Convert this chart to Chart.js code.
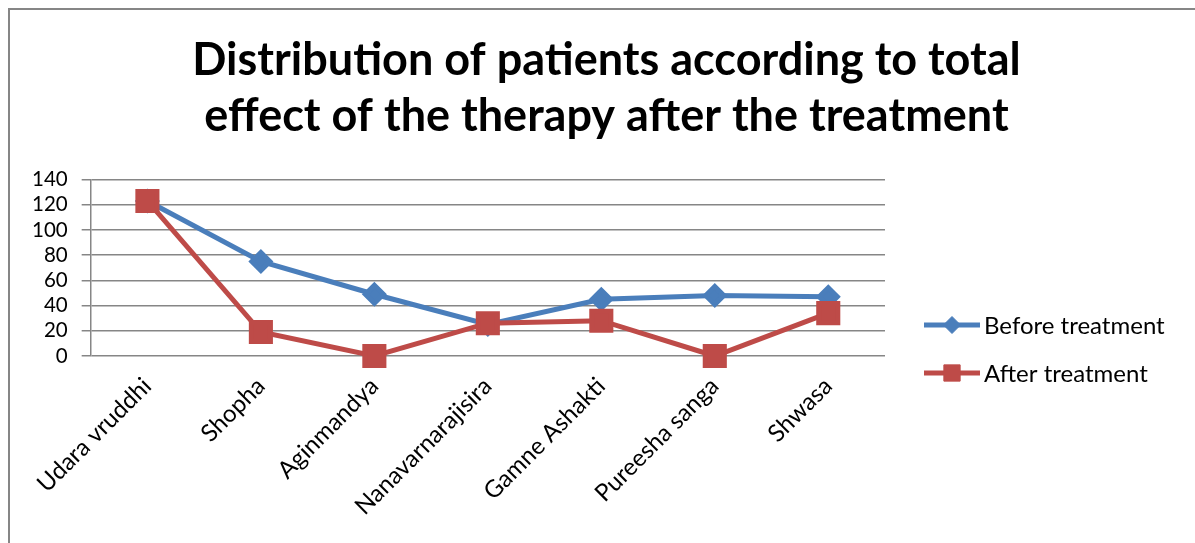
<!DOCTYPE html>
<html>
<head>
<meta charset="utf-8">
<script src="https://cdn.jsdelivr.net/npm/chart.js@4/dist/chart.umd.min.js"></script>
<style>
html,body{margin:0;padding:0;background:#fff;}
#wrap{position:relative;width:1195px;height:543px;}
</style>
</head>
<body>
<div id="wrap"><canvas id="c" width="1195" height="543"></canvas></div>
<script>
const categories = ["Udara vruddhi", "Shopha", "Aginmandya", "Nanavarnarajisira", "Gamne Ashakti", "Pureesha sanga", "Shwasa"];
const beforeTreatment = [123, 75, 49, 25, 45, 48, 47];
const afterTreatment = [123, 19, 0, 26, 28, 0, 34];
const yTicks = [0, 20, 40, 60, 80, 100, 120, 140];
const titleLines = ["Distribution of patients according to total", "effect of the therapy after the treatment"];
const seriesNames = ["Before treatment", "After treatment"];

const BLUE = '#4A7EBB';
const RED = '#BE4B48';
const GRID = '#868686';
const FONT = 'Lato, "Open Sans", sans-serif';

const framePlugin = {
  id: 'frame',
  beforeDraw(chart) {
    const ctx = chart.ctx;
    ctx.save();
    ctx.fillStyle = '#fff';
    ctx.fillRect(0, 0, chart.width, chart.height);
    ctx.strokeStyle = GRID;
    ctx.lineWidth = 2;
    ctx.strokeRect(9, 9, chart.width + 20, chart.height + 20);
    ctx.restore();
  }
};

const legendPlugin = {
  id: 'sideLegend',
  afterDraw(chart) {
    const ctx = chart.ctx;
    const x0 = chart.chartArea.right + 39;
    const yMid = 349;
    const gap = 48;
    const ds = chart.data.datasets;
    const markerR = [8.5, 11.5];
    ctx.save();
    ds.forEach((d, i) => {
      const y = yMid + (i - (ds.length - 1) / 2) * gap;
      ctx.strokeStyle = d.borderColor;
      ctx.lineWidth = d.borderWidth;
      ctx.beginPath();
      ctx.moveTo(x0, y);
      ctx.lineTo(x0 + 56, y);
      ctx.stroke();
      ctx.fillStyle = d.pointBackgroundColor;
      ctx.strokeStyle = d.pointBorderColor;
      ctx.lineWidth = 1;
      Chart.helpers.drawPoint(ctx, {pointStyle: d.pointStyle, radius: markerR[i], borderWidth: 1}, x0 + 28, y);
      ctx.fillStyle = '#000';
      ctx.font = '24px ' + FONT;
      ctx.textBaseline = 'middle';
      ctx.textAlign = 'left';
      ctx.fillText(d.label, x0 + 60, y + 1);
    });
    ctx.restore();
  }
};

new Chart(document.getElementById('c'), {
  type: 'line',
  data: {
    labels: categories,
    datasets: [
      {
        label: seriesNames[0],
        data: beforeTreatment,
        borderColor: BLUE,
        backgroundColor: BLUE,
        pointBackgroundColor: BLUE,
        pointBorderColor: BLUE,
        borderWidth: 5,
        pointStyle: 'rectRot',
        pointRadius: 9,
        pointHoverRadius: 9,
        tension: 0,
        order: 1,
        clip: false
      },
      {
        label: seriesNames[1],
        data: afterTreatment,
        borderColor: RED,
        backgroundColor: RED,
        pointBackgroundColor: RED,
        pointBorderColor: RED,
        borderWidth: 5,
        pointStyle: 'rect',
        pointRadius: 13.5,
        pointHoverRadius: 13.5,
        tension: 0,
        order: 0,
        clip: false
      }
    ]
  },
  options: {
    responsive: false,
    animation: false,
    events: [],
    layout: { padding: { left: 18, right: 0, top: 0, bottom: 0 } },
    plugins: {
      legend: { display: false },
      tooltip: { enabled: false },
      title: {
        display: true,
        text: titleLines,
        color: '#000',
        font: { family: FONT, size: 45, weight: 'bold', lineHeight: 1.25 },
        padding: { top: 32, bottom: 35 }
      }
    },
    scales: {
      x: {
        offset: true,
        grid: { display: false, drawTicks: false },
        border: { display: false },
        afterFit(scale) { scale.height = 187; },
        ticks: {
          color: '#000',
          font: { family: FONT, size: 24 },
          minRotation: 45,
          maxRotation: 45,
          autoSkip: false,
          padding: 16
        }
      },
      y: {
        min: yTicks[0],
        max: yTicks[yTicks.length - 1],
        afterBuildTicks(scale) { scale.ticks = yTicks.map(v => ({ value: v })); },
        grid: { color: GRID, lineWidth: 1.5, tickLength: 9, drawTicks: true },
        border: { display: true, color: GRID, width: 1.5 },
        ticks: {
          color: '#000',
          autoSkip: false,
          font: { family: FONT, size: 20.5 },
          padding: 14
        }
      },
      legendSpace: {
        type: 'linear',
        position: 'right',
        display: true,
        grid: { display: false, drawTicks: false },
        border: { display: false },
        ticks: { display: false },
        afterFit(scale) { scale.width = 310; }
      }
    }
  },
  plugins: [framePlugin, legendPlugin]
});
</script>
</body>
</html>
